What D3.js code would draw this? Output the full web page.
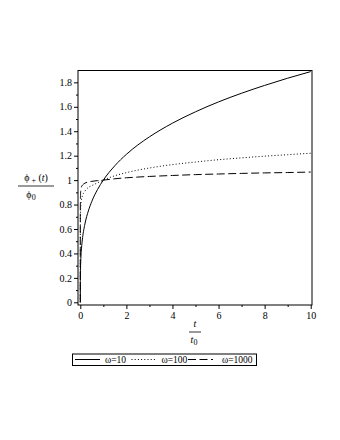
<!DOCTYPE html>
<html>
<head>
<meta charset="utf-8">
<script src="https://cdn.jsdelivr.net/npm/d3@7"></script>
<style>
  body { margin: 0; background: #fff; }
</style>
</head>
<body>
<svg id="chart" width="340" height="440"></svg>
<script>
// the data (t/t0 and phi+/phi0)
const tVals = [0, 0.0005, 0.002, 0.005, 0.01, 0.02, 0.05, 0.1, 0.2, 0.35, 0.5, 0.75, 1, 1.5, 2, 2.5, 3, 4, 5, 6, 7, 8, 9, 10];
const omega10 = [0, 0.123, 0.180, 0.232, 0.281, 0.340, 0.437, 0.530, 0.641, 0.748, 0.826, 0.924, 1.0, 1.118, 1.211, 1.288, 1.354, 1.466, 1.559, 1.640, 1.711, 1.775, 1.834, 1.888];
const omega100 = [0, 0.50, 0.60, 0.68, 0.74, 0.79, 0.84, 0.875, 0.91, 0.94, 0.955, 0.978, 1.0, 1.036, 1.061, 1.082, 1.099, 1.127, 1.148, 1.167, 1.182, 1.196, 1.208, 1.22];
const omega1000 = [0, 0.70, 0.78, 0.84, 0.88, 0.915, 0.945, 0.96, 0.975, 0.985, 0.99, 0.996, 1.0, 1.011, 1.019, 1.025, 1.03, 1.038, 1.045, 1.05, 1.055, 1.059, 1.062, 1.066];
const seriesNames = ["ω=10", "ω=100", "ω=1000"];
const xTicks = [0, 2, 4, 6, 8, 10];
const xMinor = [1, 3, 5, 7, 9];
const yTicks = [0, 0.2, 0.4, 0.6, 0.8, 1, 1.2, 1.4, 1.6, 1.8];
const yMinor = [0.1, 0.3, 0.5, 0.7, 0.9, 1.1, 1.3, 1.5, 1.7];

const serif = "'Liberation Serif', serif";

let svg = d3.select("#chart");

// plot box
const boxL = 78, boxR = 312, boxT = 70.5, boxB = 305;

let x = d3.scaleLinear().domain([-0.1, 10.056]).range([boxL, boxR]);
let y = d3.scaleLinear().domain([-0.022, 1.897]).range([boxB, boxT]);

// box around plot
svg.append("rect")
  .attr("x", boxL).attr("y", boxT)
  .attr("width", boxR - boxL).attr("height", boxB - boxT)
  .attr("fill", "none").attr("stroke", "#000").attr("stroke-width", 1);

// axes, ticks pointing outward
let yAxis = svg.append("g")
  .attr("transform", `translate(${boxL},0)`)
  .call(d3.axisLeft(y).tickValues(yTicks).tickSize(4).tickPadding(2)
    .tickFormat(d => d3.format("~g")(d)));
yAxis.select(".domain").remove();
yAxis.selectAll("text").style("font-family", serif).style("font-size", "10px").attr("fill", "#000");

svg.append("g")
  .attr("transform", `translate(${boxL},0)`)
  .call(d3.axisLeft(y).tickValues(yMinor).tickSize(2).tickFormat(""))
  .select(".domain").remove();

let xAxis = svg.append("g")
  .attr("transform", `translate(0,${boxB})`)
  .call(d3.axisBottom(x).tickValues(xTicks).tickSize(4).tickPadding(3));
xAxis.select(".domain").remove();
xAxis.selectAll("text").style("font-family", serif).style("font-size", "10px").attr("fill", "#000");

svg.append("g")
  .attr("transform", `translate(0,${boxB})`)
  .call(d3.axisBottom(x).tickValues(xMinor).tickSize(2).tickFormat(""))
  .select(".domain").remove();

// curves
const styles = ["none", "1,2.2", "8,3.5"];
const allSeries = [omega10, omega100, omega1000];

svg.append("clipPath").attr("id", "plotclip")
  .append("rect").attr("x", boxL).attr("y", boxT)
  .attr("width", boxR - boxL).attr("height", boxB - boxT);

let line = d3.line()
  .x(d => x(d[0]))
  .y(d => y(d[1]))
  .curve(d3.curveMonotoneX);

allSeries.forEach(function (vals, i) {
  svg.append("path")
    .datum(tVals.map((t, j) => [t, vals[j]]))
    .attr("d", line)
    .attr("clip-path", "url(#plotclip)")
    .attr("fill", "none")
    .attr("stroke", "#000")
    .attr("stroke-width", 1)
    .attr("stroke-dasharray", styles[i]);
});

function label(g, px, py) {
  return g.append("text").attr("x", px).attr("y", py).attr("text-anchor", "middle")
    .attr("fill", "#000").style("font-family", serif).style("font-size", "10px");
}

// y label: phi_+(t) / phi_0
let num = label(svg, 36, 181);
num.append("tspan").text("ϕ");
num.append("tspan").attr("dy", 2).style("font-size", "8px").text(" +");
num.append("tspan").attr("dy", -2).text(" (");
num.append("tspan").style("font-style", "italic").text("t");
num.append("tspan").text(")");
svg.append("line").attr("x1", 18).attr("x2", 54).attr("y1", 186).attr("y2", 186)
  .attr("stroke", "#000").attr("stroke-width", 0.8);
let den = label(svg, 31, 198);
den.append("tspan").text("ϕ");
den.append("tspan").attr("dy", 2).style("font-size", "8px").text("0");

// x label: t / t_0
label(svg, 195, 327).style("font-style", "italic").text("t");
svg.append("line").attr("x1", 189).attr("x2", 201).attr("y1", 332).attr("y2", 332)
  .attr("stroke", "#000").attr("stroke-width", 0.8);
let xd = label(svg, 194, 343);
xd.append("tspan").style("font-style", "italic").text("t");
xd.append("tspan").attr("dy", 2).style("font-size", "8px").text("0");

// legend
const legX = [75, 131.5, 188];
const legTextX = [105, 161.5, 222];
let legend = svg.append("g");
legend.append("rect").attr("x", 72.5).attr("y", 354).attr("width", 184).attr("height", 11.5)
  .attr("fill", "none").attr("stroke", "#000").attr("stroke-width", 1);
seriesNames.forEach(function (name, i) {
  legend.append("line")
    .attr("x1", legX[i]).attr("x2", legX[i] + 25)
    .attr("y1", 359.5).attr("y2", 359.5)
    .attr("stroke", "#000").attr("stroke-width", 1)
    .attr("stroke-dasharray", styles[i]);
  legend.append("text").attr("x", legTextX[i]).attr("y", 363)
    .attr("fill", "#000").style("font-family", serif)
    .style("font-size", "9.5px").text(name);
});
</script>
</body>
</html>
